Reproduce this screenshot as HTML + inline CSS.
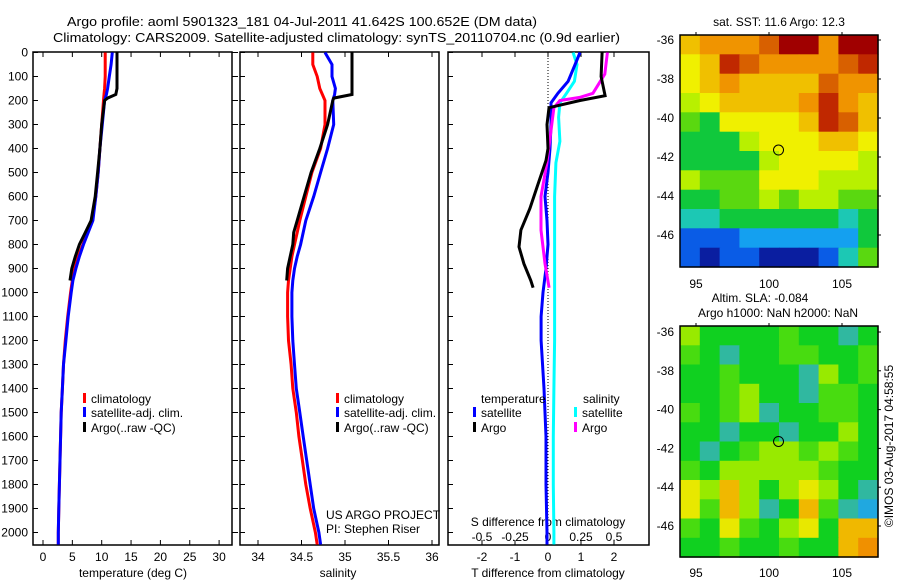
<!DOCTYPE html>
<html><head><meta charset="utf-8">
<style>
html,body{margin:0;padding:0;background:#fff;}
svg{display:block;font-family:"Liberation Sans",sans-serif;}
</style></head>
<body>
<svg id="chart" width="900" height="580" viewBox="0 0 900 580" xmlns="http://www.w3.org/2000/svg">
<text x="67" y="26" font-size="13" textLength="470" lengthAdjust="spacingAndGlyphs">Argo profile: aoml 5901323_181 04-Jul-2011 41.642S 100.652E (DM data)</text>
<text x="53" y="42" font-size="13" textLength="567" lengthAdjust="spacingAndGlyphs">Climatology: CARS2009. Satellite-adjusted climatology: synTS_20110704.nc (0.9d earlier)</text>
<g id="g"></g>
</svg>
<script>
// ---- data ----
const depthClim = [0,50,100,150,175,200,300,400,500,600,700,750,800,850,900,950,1000,1100,1200,1300,1400,1500,1600,1700,1800,1900,2000,2050];
const tempClim = [10.6,10.6,10.6,10.5,10.4,10.3,10.0,9.7,9.4,9.0,8.4,7.6,6.8,6.0,5.4,5.0,4.7,4.2,3.8,3.5,3.3,3.1,3.0,2.9,2.8,2.7,2.6,2.6];
const tempSat = [11.8,11.6,11.3,11.0,10.8,10.5,10.1,9.7,9.4,9.0,8.5,7.7,6.9,6.2,5.6,5.1,4.8,4.3,3.9,3.5,3.3,3.1,3.0,2.9,2.8,2.7,2.6,2.6];
const depthArgo = [0,50,100,150,175,190,200,300,400,500,600,700,750,800,850,900,950];
const tempArgo = [12.6,12.6,12.6,12.6,12.4,11.0,10.5,10.0,9.7,9.3,8.9,8.2,7.2,6.2,5.5,4.9,4.6];
const salClim = [34.63,34.63,34.68,34.71,34.74,34.77,34.77,34.72,34.62,34.55,34.48,34.45,34.42,34.39,34.37,34.35,34.34,34.34,34.35,34.38,34.40,34.44,34.47,34.51,34.55,34.60,34.66,34.68];
const salSat = [34.77,34.85,34.85,34.89,34.88,34.86,34.87,34.80,34.72,34.64,34.55,34.52,34.49,34.45,34.42,34.40,34.39,34.39,34.40,34.42,34.44,34.48,34.52,34.56,34.60,34.64,34.70,34.72];
const salArgo = [35.08,35.08,35.08,35.08,35.08,34.87,34.86,34.80,34.71,34.61,34.53,34.45,34.41,34.40,34.37,34.34,34.33];
const depthDT = [0,100,180,200,230,300,400,450,560,650,740,810,880,950,980];
const dTArgo = [1.64,1.61,1.73,0.97,0.03,-0.03,0,-0.06,-0.33,-0.55,-0.82,-0.88,-0.73,-0.52,-0.45];
const depthDTsat = [0,50,120,170,210,300,400,500,600,700,800,900,1000,1100,1200,1400,1600,1800,2000,2050];
const dTSat = [0.97,0.82,0.61,0.30,0.09,0.09,0.06,0,-0.09,-0.03,0,-0.06,-0.15,-0.21,-0.21,-0.12,-0.06,-0.06,-0.03,-0.03];
const depthDSsat = [0,50,120,170,210,270,370,460,600,800,1000,1200,1400,1600,1800,2000,2050];
const dSSat = [0.19,0.22,0.20,0.14,0.09,0.08,0.09,0.06,0.05,0.05,0.05,0.05,0.045,0.04,0.04,0.045,0.045];
const depthDSargo = [0,90,170,187,200,230,325,460,600,740,880,980];
const dSArgo = [0.45,0.43,0.34,0.24,0.09,0.045,0.023,-0.008,-0.053,-0.053,-0.023,0.008];
const depthTicks = [0,100,200,300,400,500,600,700,800,900,1000,1100,1200,1300,1400,1500,1600,1700,1800,1900,2000];
const tempTicks = [0,5,10,15,20,25,30];
const salTicks = [34,34.5,35,35.5,36];
const salTickLabels = ["34","34.5","35","35.5","36"];
const dTTicks = [-2,-1,0,1,2];
const dSTicks = [-0.5,-0.25,0,0.25,0.5];
const dSTickLabels = ["-0.5","-0.25","0","0.25","0.5"];
const lonTicks = [95,100,105];
const latTicks = [-36,-38,-40,-42,-44,-46];
const argoLon = 100.652, argoLat = -41.642;
const sstGrid = [
"8999ACC9CC","78BA9999AB","7898888A99","6788889B98","5477778BA8",
"4446777887","4444677776","6555777666","4455656655","3344444434","1112222224","1011000135"];
const slaGrid = [
"6444454434","5434455445","4454443645","4456443554","5456344554","4434434464",
"4345665654","5466666544","7686467643","7586348532","5475467488","4454454489"];
const palette = ["#0a1ea0","#0a5ce6","#14a0f0","#1cc8b4","#10c83c","#5ad810","#b8f000","#f0f000","#f0c000","#f09400","#d86000","#c02800","#a00000"];
const slaPalette = ["#0a1ea0","#0a5ce6","#20a8e0","#30b8a0","#10d020","#48dc10","#98ea00","#e8e800","#f0b800","#f09000"];

const g = document.getElementById('g');
const NS = "http://www.w3.org/2000/svg";
function mk(tag, attrs, parent){ const e=document.createElementNS(NS,tag); for(const k in attrs) e.setAttribute(k,attrs[k]); (parent||g).appendChild(e); return e; }

const yD = d => 52.5 + d*0.24;
const xT = t => 43 + t*5.87;
const xS = s => 258 + (s-34)*87;
const xDT = v => 548 + v*33;
const xDS = v => 548 + v*132;
const TOP=52, BOT=545;

function frame(x0,x1,name){
  const r = mk('rect',{x:x0,y:TOP,width:x1-x0,height:BOT-TOP,fill:'none',stroke:'#000','stroke-width':1.5});
  
  
}
function line(pts, color, name, w){
  const p = mk('polyline',{points:pts.map(q=>q[0].toFixed(1)+','+q[1].toFixed(1)).join(' '),fill:'none',stroke:color,'stroke-width':w||3,'stroke-linejoin':'miter'});
  
  
}
function txt(x,y,s,opts,name){
  const t = mk('text',Object.assign({x:x,y:y,'font-size':12},opts||{}));
  t.textContent = s;
  
  
  return t;
}

frame(33,232,'temperature-panel-frame');
frame(240,439,'salinity-panel-frame');
frame(448,649,'difference-panel-frame');

depthTicks.forEach(d=>{
  const y=yD(d);
  txt(28,y+4,String(d),{'text-anchor':'end'},'depth-tick-label');
  [[33,38],[232,238],[240,245],[448,453]].forEach(s=>{
    const l=mk('line',{x1:s[0],x2:s[1],y1:y,y2:y,stroke:'#000','stroke-width':1});
    
    
  });
});
tempTicks.forEach(t=>{
  const x=xT(t);
  txt(x,561,String(t),{'text-anchor':'middle'},'temperature-tick-label');
  [[TOP,TOP+5],[BOT-5,BOT]].forEach(s=>{const l=mk('line',{x1:x,x2:x,y1:s[0],y2:s[1],stroke:'#000'});
    
    });
});
txt(133,577,'temperature (deg C)',{'text-anchor':'middle'},'temperature-axis-title');
salTicks.forEach((s,i)=>{
  const x=xS(s);
  txt(x,561,salTickLabels[i],{'text-anchor':'middle'},'salinity-tick-label');
  [[TOP,TOP+5],[BOT-5,BOT]].forEach(q=>{const l=mk('line',{x1:x,x2:x,y1:q[0],y2:q[1],stroke:'#000'});
    
    });
});
txt(338,577,'salinity',{'text-anchor':'middle'},'salinity-axis-title');
dTTicks.forEach(v=>{
  const x=xDT(v);
  txt(x,561,String(v),{'text-anchor':'middle'},'t-diff-tick-label');
  const l=mk('line',{x1:x,x2:x,y1:BOT-5,y2:BOT,stroke:'#000'});
  
  
});
dSTicks.forEach((v,i)=>{
  const x=xDS(v);
  txt(x,541,dSTickLabels[i],{'text-anchor':'middle'},'s-diff-tick-label');
  const l=mk('line',{x1:x,x2:x,y1:TOP,y2:TOP+5,stroke:'#000'});
  
  
});
txt(548,526,'S difference from climatology',{'text-anchor':'middle'},'s-diff-axis-title');
txt(548,577,'T difference from climatology',{'text-anchor':'middle'},'t-diff-axis-title');
const zl=mk('line',{x1:xDT(0),x2:xDT(0),y1:TOP,y2:BOT,stroke:'#000','stroke-dasharray':'1,2'});



line(depthClim.map((d,i)=>[xT(tempClim[i]),yD(d)]),'#ff0000','temp-climatology-line');
line(depthClim.map((d,i)=>[xT(tempSat[i]),yD(d)]),'#0000ff','temp-satellite-line');
line(depthArgo.map((d,i)=>[xT(tempArgo[i]),yD(d)]),'#000000','temp-argo-line');
line(depthClim.map((d,i)=>[xS(salClim[i]),yD(d)]),'#ff0000','sal-climatology-line');
line(depthClim.map((d,i)=>[xS(salSat[i]),yD(d)]),'#0000ff','sal-satellite-line');
line(depthArgo.map((d,i)=>[xS(salArgo[i]),yD(d)]),'#000000','sal-argo-line');
line(depthDSsat.map((d,i)=>[xDS(dSSat[i]),yD(d)]),'#00ffff','s-diff-satellite-line');
line(depthDTsat.map((d,i)=>[xDT(dTSat[i]),yD(d)]),'#0000ff','t-diff-satellite-line');
line(depthDSargo.map((d,i)=>[xDS(dSArgo[i]),yD(d)]),'#ff00ff','s-diff-argo-line');
line(depthDT.map((d,i)=>[xDT(dTArgo[i]),yD(d)]),'#000000','t-diff-argo-line');

function legendEntry(x,y,color,label,name){
  const r=mk('rect',{x:x,y:y-10,width:3,height:10,fill:color});
  
  
  txt(x+8,y,label,{},name);
}
legendEntry(83,403,'#ff0000','climatology','legend-climatology');
legendEntry(83,417,'#0000ff','satellite-adj. clim.','legend-satellite');
legendEntry(83,432,'#000000','Argo(..raw -QC)','legend-argo');
legendEntry(336,403,'#ff0000','climatology','legend2-climatology');
legendEntry(336,417,'#0000ff','satellite-adj. clim.','legend2-satellite');
legendEntry(336,432,'#000000','Argo(..raw -QC)','legend2-argo');
txt(481,403,'temperature',{},'legend-temperature-heading');
txt(583,403,'salinity',{},'legend-salinity-heading');
legendEntry(473,417,'#0000ff','satellite','legend-t-satellite');
legendEntry(473,432,'#000000','Argo','legend-t-argo');
legendEntry(574,417,'#00ffff','satellite','legend-s-satellite');
legendEntry(574,432,'#ff00ff','Argo','legend-s-argo');
txt(326,519,'US ARGO PROJECT',{},'project-label');
txt(326,533,'PI: Stephen Riser',{},'pi-label');

function drawMap(x0,y0,x1,y1,grid,pal,lat36,latStep,name,labelY){
  const rows=grid.length, cols=grid[0].length;
  const cw=(x1-x0)/cols, ch=(y1-y0)/rows;
  grid.forEach((row,r)=>{
    for(let c=0;c<cols;c++){
      const v=parseInt(row[c],16);
      const cell=mk('rect',{x:(x0+c*cw).toFixed(1),y:(y0+r*ch).toFixed(1),width:(cw+0.6).toFixed(1),height:(ch+0.6).toFixed(1),fill:pal[v]});
      
      
    }
  });
  const fr=mk('rect',{x:x0,y:y0,width:x1-x0,height:y1-y0,fill:'none',stroke:'#000','stroke-width':1.5});
  
  
  const xL = lon => 696 + (lon-95)*14.6;
  const yL = lat => lat36 + (-36-lat)*latStep;
  lonTicks.forEach(lon=>{
    txt(xL(lon),labelY,String(lon),{'text-anchor':'middle'},name+'-lon-label');
    const t=mk('line',{x1:xL(lon),x2:xL(lon),y1:y0-3,y2:y0,stroke:'#000'});
    
    
  });
  latTicks.forEach(lat=>{
    txt(674,yL(lat)+4,String(lat),{'text-anchor':'end'},name+'-lat-label');
    const t=mk('line',{x1:x1,x2:x1+3,y1:yL(lat),y2:yL(lat),stroke:'#000'});
    
    
  });
  const c=mk('circle',{cx:xL(argoLon),cy:yL(argoLat),r:5,fill:'none',stroke:'#000','stroke-width':1});
  
  
}
drawMap(680,35,878,267,sstGrid,palette,40,19.5,'sst-map',288);
txt(779,26,'sat. SST: 11.6 Argo: 12.3',{'text-anchor':'middle'},'sst-map-title');
drawMap(680,326,878,557,slaGrid,slaPalette,332,19.4,'sla-map',577);
txt(760,302,'Altim. SLA: -0.084',{'text-anchor':'middle'},'sla-map-title');
txt(778,317,'Argo h1000: NaN h2000: NaN',{'text-anchor':'middle'},'sla-map-subtitle');
txt(0,0,'©IMOS 03-Aug-2017 04:58:55',{'text-anchor':'middle',transform:'translate(893,446) rotate(-90)'},'timestamp-label');
</script>
</body></html>
